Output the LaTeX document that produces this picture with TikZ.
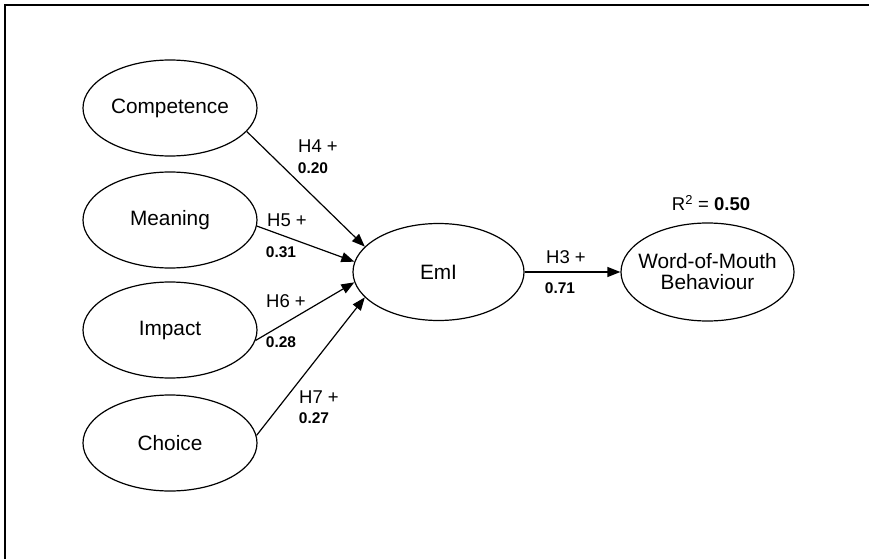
\documentclass[tikz,border=0pt]{standalone}
\usepackage{fontspec}
\setmainfont{Liberation Sans}
\usetikzlibrary{shapes.geometric,arrows.meta}
\begin{document}
\begin{tikzpicture}[x=1pt,y=-1pt,
  construct/.style={draw,ellipse,line width=1.2pt,minimum width=174pt,minimum height=96pt,
    inner sep=0pt,align=center,font=\fontsize{20.8}{23}\selectfont},
  path/.style={line width=1.2pt,-{Triangle[length=13pt,width=10pt]}},
  hyp/.style={inner sep=0pt,font=\fontsize{18.5}{20}\selectfont},
  coef/.style={inner sep=0pt,font=\fontsize{15.5}{18}\selectfont\bfseries}]
  \useasboundingbox (0,0) rectangle (869,559);
  % frame (top and left edges only)
  \draw[line width=1.2pt] (5,559) -- (5,5) -- (869,5);

  % constructs
  \node[construct] (comp) at (170,108) {Competence};
  \node[construct] (mean) at (170,220) {Meaning};
  \node[construct] (imp)  at (170,330) {Impact};
  \node[construct] (cho)  at (170,443) {Choice};
  \node[construct,minimum width=171pt,minimum height=97pt] (eml) at (438.5,272) {EmI};
  \node[construct,minimum width=173pt,minimum height=98pt,inner xsep=-30pt] (wom) at (707.5,272)
    {Word-of-Mouth\\[-2pt]Behaviour};

  % paths
  \draw[path] (comp.-17) -- (eml.161);
  \draw[path] (mean.-4)  -- (eml.173);
  \draw[path] (imp.-7)   -- (eml.187);
  \draw[path] (cho.5)    -- (eml.199);
  \draw[path] (eml) -- (wom);

  % hypothesis labels and coefficients
  \node[hyp]  (h4) at (318,146) {H4 +};
  \node[coef] (c4) at (313,168) {0.20};
  \node[hyp]  (h5) at (287,220) {H5 +};
  \node[coef] (c5) at (281,252) {0.31};
  \node[hyp]  (h6) at (286,301) {H6 +};
  \node[coef] (c6) at (281,342) {0.28};
  \node[hyp]  (h7) at (319,397) {H7 +};
  \node[coef] (c7) at (314,418) {0.27};
  \node[hyp]  (h3) at (566,257) {H3 +};
  \node[coef] (c3) at (560,288) {0.71};

  % explained variance
  \node[hyp] (r2) at (711,203) {R\textsuperscript{2} = \textbf{0.50}};
\end{tikzpicture}
\end{document}
